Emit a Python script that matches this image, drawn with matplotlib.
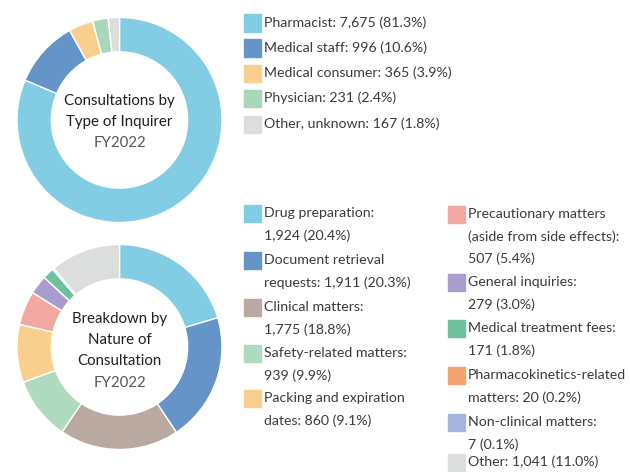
import matplotlib
matplotlib.use('Agg')
import matplotlib.pyplot as plt
from matplotlib.patches import Rectangle

plt.rcParams['font.family'] = ['Lato', 'DejaVu Sans']

# data
inq_labels = ['Pharmacist: 7,675 (81.3%)', 'Medical staff: 996 (10.6%)',
              'Medical consumer: 365 (3.9%)', 'Physician: 231 (2.4%)',
              'Other, unknown: 167 (1.8%)']
inq_values = [7675, 996, 365, 231, 167]
inq_colors = ['#82cde3', '#6594c8', '#f9cf8e', '#a8d8b9', '#dcdddd']

nat_labels = ['Drug preparation:\n1,924 (20.4%)',
              'Document retrieval\nrequests: 1,911 (20.3%)',
              'Clinical matters:\n1,775 (18.8%)',
              'Safety-related matters:\n939 (9.9%)',
              'Packing and expiration\ndates: 860 (9.1%)',
              'Precautionary matters\n(aside from side effects):\n507 (5.4%)',
              'General inquiries:\n279 (3.0%)',
              'Medical treatment fees:\n171 (1.8%)',
              'Pharmacokinetics-related\nmatters: 20 (0.2%)',
              'Non-clinical matters:\n7 (0.1%)',
              'Other: 1,041 (11.0%)']
nat_values = [1924, 1911, 1775, 939, 860, 507, 279, 171, 20, 7, 1041]
nat_colors = ['#82cde3', '#6594c8', '#baa9a0', '#aedbc0', '#f9cf8e', '#f2a7a0',
              '#a99bcb', '#6dc19e', '#f3a36e', '#a3b5dd', '#dcdddd']

W, H = 630, 472
fig = plt.figure(figsize=(W / 100, H / 100), dpi=100)


def px(x, y):
    return x / W, 1 - y / H


def donut(cx, cy, r, values, colors):
    ax = fig.add_axes([(cx - r) / W, 1 - (cy + r) / H, 2 * r / W, 2 * r / H])
    ax.pie(values, colors=colors, startangle=90, counterclock=False, radius=1,
           wedgeprops=dict(width=0.335, edgecolor='white', linewidth=1))
    ax.set_xlim(-1, 1)
    ax.set_ylim(-1, 1)
    ax.set_aspect('auto')
    ax.axis('off')
    return ax


donut(119.5, 120, 102.5, inq_values, inq_colors)
donut(119.5, 347, 102.5, nat_values, nat_colors)

# center titles
for txt, y in zip(['Consultations by', 'Type of Inquirer'], [101, 122]):
    fig.text(*px(119.5, y), txt, ha='center', va='center', fontsize=10.8, color='#231f20')
fig.text(*px(119.5, 143), 'FY2022', ha='center', va='center', fontsize=10.8, color='#595757')
for txt, y in zip(['Breakdown by', 'Nature of', 'Consultation'], [319, 340, 361]):
    fig.text(*px(119.5, y), txt, ha='center', va='center', fontsize=10.8, color='#231f20')
fig.text(*px(119.5, 383), 'FY2022', ha='center', va='center', fontsize=10.8, color='#595757')

# legends
line_h = 22.3


def legend_item(x, y, label, color):
    fig.patches.append(Rectangle(px(x, y + 8.5), 17 / W, 17 / H, color=color,
                                 transform=fig.transFigure, figure=fig))
    for i, line in enumerate(label.split('\n')):
        fig.text(*px(x + 20, y + i * line_h), line, ha='left', va='center',
                 fontsize=10.2, color='#3e3a39')


top_y = [23, 48, 73, 98, 124]
for lab, col, y in zip(inq_labels, inq_colors, top_y):
    legend_item(244, y, lab, col)

left_y = [213, 260, 307, 353, 398]
right_y = [214, 282, 328, 375, 422, 462]
for lab, col, y in zip(nat_labels[:5], nat_colors[:5], left_y):
    legend_item(244, y, lab, col)
for lab, col, y in zip(nat_labels[5:], nat_colors[5:], right_y):
    legend_item(448, y, lab, col)

fig.savefig('out.png', dpi=100)
